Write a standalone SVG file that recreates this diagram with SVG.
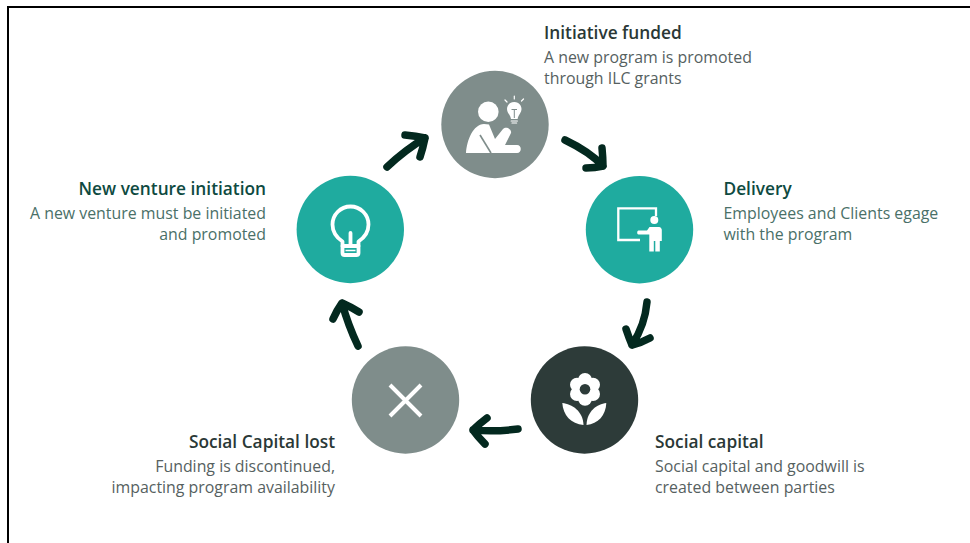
<svg xmlns="http://www.w3.org/2000/svg" width="970" height="543" viewBox="0 0 970 543">
<defs>
<style>
text{font-family:"Open Sans","Noto Sans","Liberation Sans",sans-serif}
.t{font-size:17.3px;font-weight:600}
.b{font-size:15.9px}
.e{text-anchor:end}
.gt{fill:#2a3836}.gb{fill:#56615f}
.tt{fill:#0e4a41}.tb{fill:#4a7068}
.ar{fill:none;stroke:#03291f;stroke-width:7.500;stroke-linecap:round;stroke-linejoin:round}
.w{fill:#fff}
.ws{fill:none;stroke:#fff;stroke-linecap:round;stroke-linejoin:round}
</style>
</defs>
<rect width="970" height="543" fill="#fff"/>
<path d="M970,7H8V543" fill="none" stroke="#000" stroke-width="2"/>
<g id="connectors" class="ar">
<path d="M565,140Q590,152 603,166M602,148Q603,158 603,166Q595,168 586,168"/>
<path d="M647,302Q645,325 632,345M626,329Q629,338 632,345Q641,343 650,338"/>
<path d="M518,429Q495,432 473,430M487,418Q479,424 473,430Q478,437 485,444"/>
<path d="M358,346Q348,325 342,303M333,319Q337,310 342,303Q351,307 359,312"/>
<path d="M387,167Q405,150 425,138M405,135Q416,136 425,138Q423,148 420,157"/>
</g>
<g id="node-initiative">
<circle cx="495" cy="124.500" r="53.700" fill="#7f8d8b"/>
<circle class="w" cx="488.300" cy="111.700" r="10.300"/>
<path class="w" d="M466,153C467,140 473,124.500 484,124L489,124.500L495,139L503,129C506,126 512,129 511,133L505,145H517C522,145 522,153 517,153H468C467,153 466,153 466,153Z"/>
<path d="M480,135L491,153" fill="none" stroke="#7f8d8b" stroke-width="1.600"/>
<path class="w" d="M514.300,102C509,102 507,106 507,109C507,113 510,114 511,119H517.600C518.600,114 521.500,113 521.500,109C521.500,106 519.500,102 514.300,102Z"/>
<path d="M511.500,109.500H517M514.300,110V118" fill="none" stroke="#7f8d8b" stroke-width="1"/>
<path class="ws" d="M511.200,121H517.400M512,123H516.600" stroke-width="1.200"/>
<path class="ws" d="M514.300,96V99M505,100L507,102M523.500,99L521.500,101" stroke-width="1.200"/>
</g>
<g id="node-delivery">
<circle cx="639.500" cy="229.700" r="53.700" fill="#1fab9f"/>
<path d="M656,216V208.300H618.300V240H640" fill="none" stroke="#fff" stroke-width="2.300"/>
<circle class="w" cx="654.300" cy="220" r="4"/>
<path class="w" d="M638.500,230.500H647L649.500,227H659C661,227 661.800,229 661.800,230V241H659.800V251.500H655.300V241H653.800V251.500H649.300V234.500H638.500C636.800,234.500 636.800,230.500 638.500,230.500Z"/>
</g>
<g id="node-social-capital">
<circle cx="584.500" cy="400" r="53.700" fill="#2d3b39"/>
<g class="w">
<circle cx="585" cy="380" r="7"/>
<circle cx="593" cy="384.700" r="7"/>
<circle cx="593" cy="394" r="7"/>
<circle cx="585" cy="398.700" r="7"/>
<circle cx="577" cy="394" r="7"/>
<circle cx="577" cy="384.700" r="7"/>
<circle cx="585" cy="389.300" r="9"/>
<path d="M562.300,403C572,404 583,411 583.500,425C571,424 563,415 562.300,403Z"/>
<path d="M606.300,403C597,404 587,411 586.500,425C598,424 606,415 606.300,403Z"/>
</g>
<circle cx="585" cy="389.300" r="5.300" fill="#2d3b39"/>
</g>
<g id="node-social-capital-lost">
<circle cx="405.500" cy="400" r="53.700" fill="#7f8d8b"/>
<path d="M390,385L421,416M421,385L390,416" fill="none" stroke="#fff" stroke-width="4"/>
</g>
<g id="node-new-venture">
<circle cx="350.300" cy="229.500" r="53.700" fill="#1fab9f"/>
<path class="ws" stroke-width="3.800" d="M342.500,246V241.500C336.500,237.500 332.500,231.500 332.500,224.500A18,18 0 0 1 368.500,224.500C368.500,231.500 364.500,237.500 358.500,241.500V246"/>
<path class="ws" stroke-width="3.800" d="M350.500,233V246M342.500,246V253Q342.500,255 344.500,255H356.500Q358.500,255 358.500,253V246Z"/>
<path d="M345.500,250.500H355.500" stroke="#fff" stroke-width="1.500"/>
</g>
<g id="labels">
<text class="t gt" x="544" y="39">Initiative funded</text>
<text class="b gb" x="544" y="63">A new program is promoted</text>
<text class="b gb" x="544" y="84">through ILC grants</text>
<text class="t tt" x="723.500" y="195">Delivery</text>
<text class="b tb" x="723.500" y="219">Employees and Clients egage</text>
<text class="b tb" x="723.500" y="240">with the program</text>
<text class="t gt" x="655" y="448">Social capital</text>
<text class="b gb" x="655" y="472">Social capital and goodwill is</text>
<text class="b gb" x="655" y="493">created between parties</text>
<text class="t gt e" x="335" y="448">Social Capital lost</text>
<text class="b gb e" x="335" y="472">Funding is discontinued,</text>
<text class="b gb e" x="335" y="493">impacting program availability</text>
<text class="t tt e" x="266" y="195">New venture initiation</text>
<text class="b tb e" x="266" y="219">A new venture must be initiated</text>
<text class="b tb e" x="266" y="240">and promoted</text>
</g>
</svg>
